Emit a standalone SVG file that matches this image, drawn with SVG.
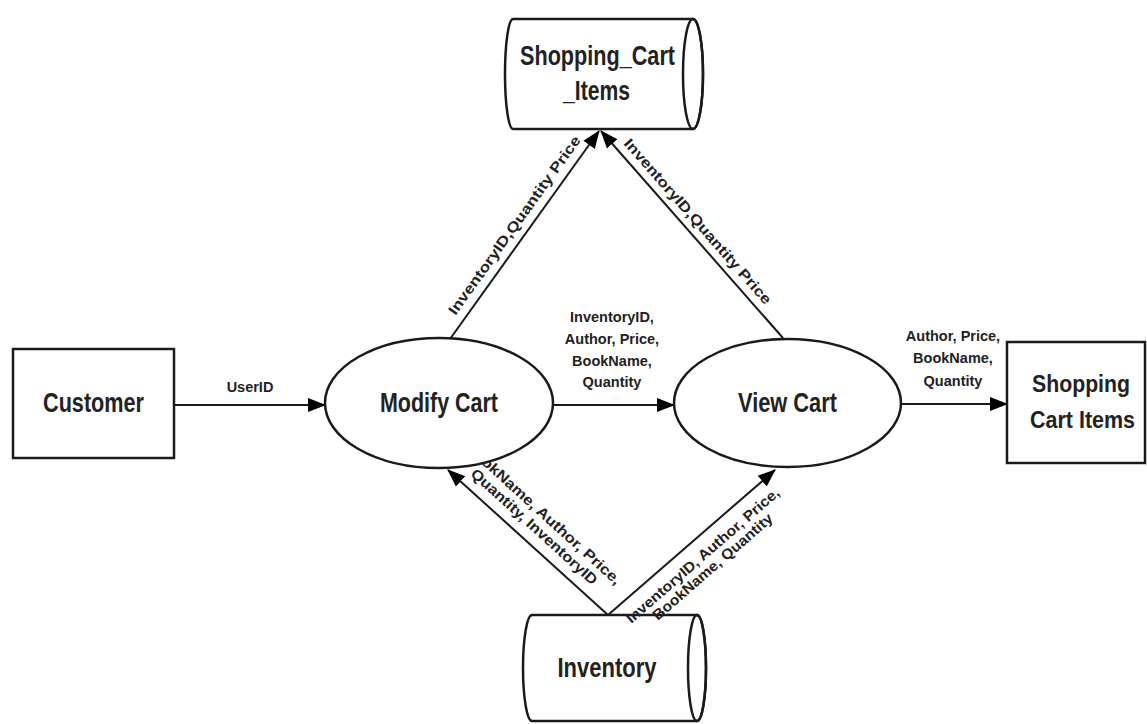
<svg xmlns="http://www.w3.org/2000/svg" width="1147" height="724" viewBox="0 0 1147 724">
<defs>
<marker id="arr" markerWidth="20" markerHeight="16" refX="17" refY="8" orient="auto" markerUnits="userSpaceOnUse">
<path d="M0,1 L18,8 L0,15 z" fill="#000"/>
</marker>
<style>
.shape{fill:#fff;stroke:#1a1a1a;stroke-width:2.5}
.edge{fill:none;stroke:#1a1a1a;stroke-width:2;marker-end:url(#arr)}
.nt{font-family:"Liberation Sans",Arial,sans-serif;font-weight:bold;font-size:27px;fill:#222;text-anchor:middle}
.lt{font-family:"Liberation Sans",Arial,sans-serif;font-weight:bold;font-size:14.5px;fill:#222;text-anchor:middle}
</style>
</defs>
<rect width="1147" height="724" fill="#fff"/>

<g id="node-inventory">
<path class="shape" d="M532,615 H697 A9,53 0 0 1 697,721 H532 A9,53 0 0 1 532,615 Z"/>
<ellipse cx="697" cy="668" rx="9" ry="53" fill="none" stroke="#1a1a1a" stroke-width="2.5"/>
<text class="nt" x="607" y="677" textLength="99" lengthAdjust="spacingAndGlyphs">Inventory</text>
</g>

<g id="connectors">
<line class="edge" x1="174" y1="405" x2="325" y2="405"/>
<text class="lt" x="250" y="392">UserID</text>

<line class="edge" x1="553" y1="405" x2="674" y2="405"/>
<text class="lt" x="612" y="322">InventoryID,</text>
<text class="lt" x="612" y="344">Author, Price,</text>
<text class="lt" x="612" y="366">BookName,</text>
<text class="lt" x="612" y="387">Quantity</text>

<line class="edge" x1="901" y1="404" x2="1007" y2="404"/>
<text class="lt" x="953" y="341">Author, Price,</text>
<text class="lt" x="953" y="363">BookName,</text>
<text class="lt" x="953" y="386">Quantity</text>

<line class="edge" x1="450" y1="339" x2="599" y2="131"/>
<text class="lt" transform="translate(524.5,235) rotate(-54.4)" x="2" y="-9" textLength="216" lengthAdjust="spacingAndGlyphs">InventoryID,Quantity Price</text>

<line class="edge" x1="783" y1="338" x2="601" y2="131"/>
<text class="lt" transform="translate(692,234.5) rotate(48.7)" x="-6" y="-8" textLength="215" lengthAdjust="spacingAndGlyphs">InventoryID,Quantity Price</text>

<line class="edge" x1="608" y1="615" x2="448" y2="470"/>
<g transform="translate(528,542.5) rotate(42.2)">
<text class="lt" x="-8.5" y="-27" textLength="205" lengthAdjust="spacingAndGlyphs">BookName, Author, Price,</text>
<text class="lt" x="-6" y="-11" textLength="165" lengthAdjust="spacingAndGlyphs">Quantity, InventoryID</text>
</g>

<line class="edge" x1="608" y1="615" x2="775" y2="470"/>
<g transform="translate(691.5,542.5) rotate(-41)">
<text class="lt" x="0" y="22" textLength="198" lengthAdjust="spacingAndGlyphs">InventoryID, Author, Price,</text>
<text class="lt" x="0" y="37" textLength="154" lengthAdjust="spacingAndGlyphs">BookName, Quantity</text>
</g>
</g>

<g id="node-customer">
<rect class="shape" x="13" y="349" width="161" height="109"/>
<text class="nt" x="93.5" y="412" textLength="101" lengthAdjust="spacingAndGlyphs">Customer</text>
</g>

<g id="node-modify-cart">
<ellipse class="shape" cx="439" cy="403" rx="114" ry="65"/>
<text class="nt" x="439" y="412" textLength="118" lengthAdjust="spacingAndGlyphs">Modify Cart</text>
</g>

<g id="node-view-cart">
<ellipse class="shape" cx="787.5" cy="403" rx="113.5" ry="64"/>
<text class="nt" x="787.5" y="412" textLength="99" lengthAdjust="spacingAndGlyphs">View Cart</text>
</g>

<g id="node-shopping-cart-items-store">
<path class="shape" d="M513,19 H693 A10,55 0 0 1 693,129 H513 A8,55 0 0 1 513,19 Z"/>
<ellipse cx="693" cy="74" rx="10" ry="55" fill="none" stroke="#1a1a1a" stroke-width="2.5"/>
<text class="nt" x="597.5" y="65" textLength="155" lengthAdjust="spacingAndGlyphs">Shopping_Cart</text>
<text class="nt" x="596.5" y="100" textLength="67" lengthAdjust="spacingAndGlyphs">_Items</text>
</g>

<g id="node-shopping-cart-items">
<rect class="shape" x="1007" y="342" width="138" height="121"/>
<text class="nt" x="1081" y="392" style="font-size:24px" textLength="98" lengthAdjust="spacingAndGlyphs">Shopping</text>
<text class="nt" x="1082.5" y="428" style="font-size:24px" textLength="105" lengthAdjust="spacingAndGlyphs">Cart Items</text>
</g>
</svg>
